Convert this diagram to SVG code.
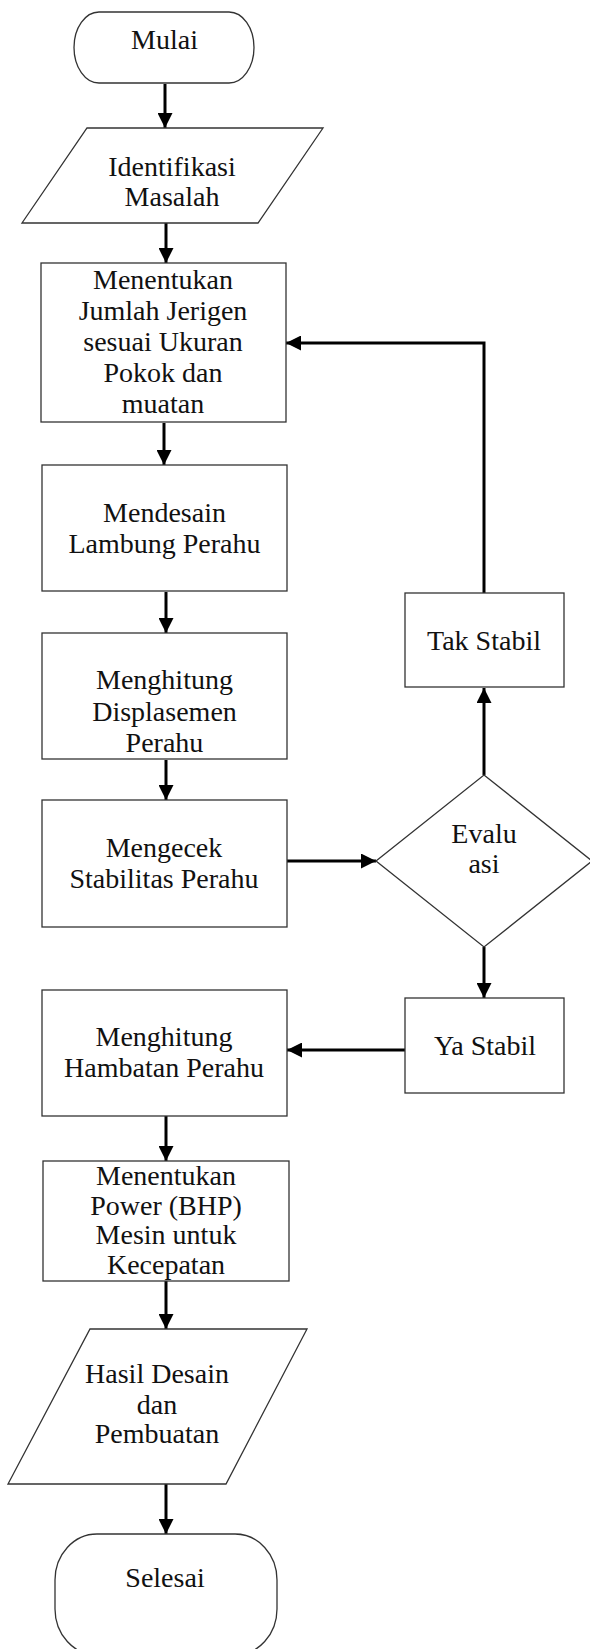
<svg xmlns="http://www.w3.org/2000/svg" width="590" height="1649" viewBox="0 0 590 1649">
  <style>
    .shape { fill: #ffffff; stroke: #333333; stroke-width: 1.3; }
    .lbl { font-family: "Liberation Serif", "Times New Roman", serif; font-size: 28px; fill: #111111; text-anchor: middle; }
    .conn { fill: none; stroke: #000000; stroke-width: 3; marker-end: url(#arrow); }
  </style>
  <defs>
    <marker id="arrow" markerUnits="userSpaceOnUse" markerWidth="16" markerHeight="15" refX="15" refY="7.5" orient="auto">
      <path d="M0,0 L15,7.5 L0,15 z" fill="#000000"/>
    </marker>
  </defs>
  <rect width="590" height="1649" fill="#ffffff"/>

  <g id="connectors">
    <line class="conn" x1="165" y1="84" x2="165" y2="128"/>
    <line class="conn" x1="166" y1="223" x2="166" y2="263"/>
    <line class="conn" x1="164" y1="423" x2="164" y2="465"/>
    <line class="conn" x1="166" y1="592" x2="166" y2="633"/>
    <line class="conn" x1="166" y1="760" x2="166" y2="800"/>
    <line class="conn" x1="287" y1="861" x2="376" y2="861"/>
    <line class="conn" x1="484" y1="775" x2="484" y2="688"/>
    <path class="conn" d="M484,593 V343 H286"/>
    <line class="conn" x1="484" y1="947" x2="484" y2="998"/>
    <line class="conn" x1="405" y1="1050" x2="287" y2="1050"/>
    <line class="conn" x1="166" y1="1116" x2="166" y2="1161"/>
    <line class="conn" x1="166" y1="1278" x2="166" y2="1329"/>
    <line class="conn" x1="166" y1="1484" x2="166" y2="1534"/>
  </g>

  <g id="mulai">
    <rect class="shape" x="74" y="12" width="180" height="71" rx="25" ry="35.5"/>
    <text class="lbl" x="164.5" y="49">Mulai</text>
  </g>

  <g id="identifikasi">
    <polygon class="shape" points="87,128 323,128 258,223 22,223"/>
    <text class="lbl" x="172" y="176">Identifikasi</text>
    <text class="lbl" x="172" y="206">Masalah</text>
  </g>

  <g id="menentukan-jumlah">
    <rect class="shape" x="41" y="263" width="245" height="159"/>
    <text class="lbl" x="163" y="289">Menentukan</text>
    <text class="lbl" x="163" y="320">Jumlah Jerigen</text>
    <text class="lbl" x="163" y="351">sesuai Ukuran</text>
    <text class="lbl" x="163" y="382">Pokok dan</text>
    <text class="lbl" x="163" y="413">muatan</text>
  </g>

  <g id="mendesain">
    <rect class="shape" x="42" y="465" width="245" height="126"/>
    <text class="lbl" x="164.5" y="522">Mendesain</text>
    <text class="lbl" x="164.5" y="553">Lambung Perahu</text>
  </g>

  <g id="displasemen">
    <rect class="shape" x="42" y="633" width="245" height="126"/>
    <text class="lbl" x="164.5" y="689">Menghitung</text>
    <text class="lbl" x="164.5" y="721">Displasemen</text>
    <text class="lbl" x="164.5" y="752">Perahu</text>
  </g>

  <g id="mengecek">
    <rect class="shape" x="42" y="800" width="245" height="127"/>
    <text class="lbl" x="164" y="857">Mengecek</text>
    <text class="lbl" x="164" y="888">Stabilitas Perahu</text>
  </g>

  <g id="evaluasi">
    <polygon class="shape" points="484,775 592,861 484,947 376,861"/>
    <text class="lbl" x="484" y="843">Evalu</text>
    <text class="lbl" x="484" y="873">asi</text>
  </g>

  <g id="tak-stabil">
    <rect class="shape" x="405" y="593" width="159" height="94"/>
    <text class="lbl" x="484" y="650">Tak Stabil</text>
  </g>

  <g id="ya-stabil">
    <rect class="shape" x="405" y="998" width="159" height="95"/>
    <text class="lbl" x="485" y="1055">Ya Stabil</text>
  </g>

  <g id="hambatan">
    <rect class="shape" x="42" y="990" width="245" height="126"/>
    <text class="lbl" x="164" y="1046">Menghitung</text>
    <text class="lbl" x="164" y="1077">Hambatan Perahu</text>
  </g>

  <g id="power">
    <rect class="shape" x="43" y="1161" width="246" height="120"/>
    <text class="lbl" x="166" y="1185">Menentukan</text>
    <text class="lbl" x="166" y="1215">Power (BHP)</text>
    <text class="lbl" x="166" y="1244">Mesin untuk</text>
    <text class="lbl" x="166" y="1274">Kecepatan</text>
  </g>

  <g id="hasil">
    <polygon class="shape" points="90,1329 307,1329 226,1484 8,1484"/>
    <text class="lbl" x="157" y="1383">Hasil Desain</text>
    <text class="lbl" x="157" y="1414">dan</text>
    <text class="lbl" x="157" y="1443">Pembuatan</text>
  </g>

  <g id="selesai">
    <rect class="shape" x="55" y="1534" width="222" height="121" rx="42" ry="46"/>
    <text class="lbl" x="165" y="1587">Selesai</text>
  </g>
</svg>
